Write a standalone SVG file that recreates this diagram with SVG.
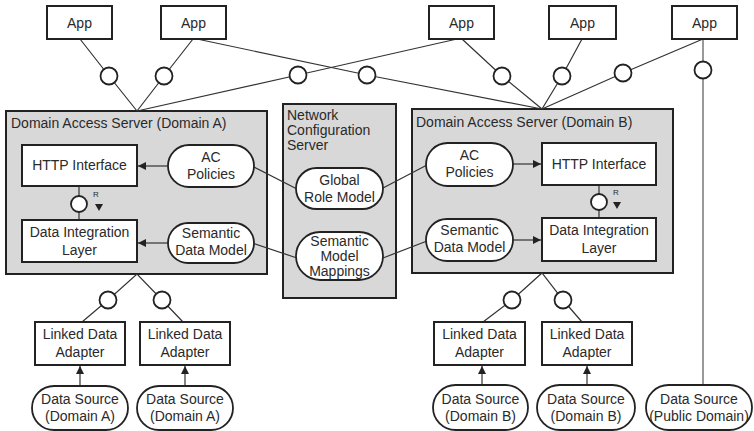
<svg xmlns="http://www.w3.org/2000/svg" width="754" height="431" viewBox="0 0 754 431">
<defs>
<style>
text{font-family:"Liberation Sans",Arial,sans-serif;font-size:14px;fill:#2a2a2a}
.t{text-anchor:middle}
.box{fill:#fff;stroke:#222;stroke-width:2}
.srv{fill:#d8d8d8;stroke:#222;stroke-width:2}
.st{fill:#fff;stroke:#222;stroke-width:1.8}
.ln{fill:none;stroke:#333;stroke-width:1.2}
.gl{fill:none;stroke:#999;stroke-width:2}
.lp{fill:#fff;stroke:#222;stroke-width:1.8}
.ar{fill:none;stroke:#333;stroke-width:1.2;marker-end:url(#ah)}
.r{font-size:8px}
</style>
<marker id="ah" viewBox="0 0 10 10" refX="10" refY="5" markerWidth="8" markerHeight="8" markerUnits="userSpaceOnUse" orient="auto"><path d="M0,0L10,5L0,10z" fill="#222"/></marker>
</defs>

<g id="domainA">
<rect class="srv" x="6" y="111" width="261" height="163"/>
<text x="11" y="128">Domain Access Server (Domain A)</text>
</g>
<g id="domainB">
<rect class="srv" x="412" y="109" width="261" height="164"/>
<text x="416" y="127">Domain Access Server (Domain B)</text>
</g>
<g id="ncs">
<rect class="srv" x="283" y="104" width="113" height="194"/>
<text x="287" y="120">Network</text>
<text x="287" y="135">Configuration</text>
<text x="287" y="150">Server</text>
</g>

<g id="connectors">
<polyline class="ln" points="80,39 109,76 137,111"/>
<polyline class="ln" points="193,39 164,76 137,111"/>
<polyline class="ln" points="457,39 298,75 137,111"/>
<polyline class="ln" points="197,39 367,75 542,109"/>
<polyline class="ln" points="462,39 502,76 542,109"/>
<polyline class="ln" points="582,39 562,76 542,109"/>
<polyline class="ln" points="703,39 623,73 542,109"/>
<line class="gl" x1="703" y1="39" x2="703" y2="385"/>
<polyline class="ln" points="82,322 108,300 137,274 162,300 183,322"/>
<polyline class="ln" points="483,322 512,300 542,273 563,300 582,322"/>
<line class="ln" x1="254" y1="167" x2="297" y2="189"/>
<line class="ln" x1="252" y1="243" x2="297" y2="258"/>
<line class="ln" x1="383" y1="188" x2="427" y2="165"/>
<line class="ln" x1="383" y1="258" x2="427" y2="241"/>
<line class="ar" x1="168" y1="166" x2="138" y2="166"/>
<line class="ar" x1="168" y1="243" x2="138" y2="243"/>
<line class="ar" x1="513" y1="164" x2="541" y2="164"/>
<line class="ar" x1="513" y1="240" x2="541" y2="240"/>
<line class="ln" x1="79" y1="186" x2="79" y2="220"/>
<line class="ln" x1="599" y1="185" x2="599" y2="218"/>
<line class="ar" x1="80" y1="386" x2="80" y2="366"/>
<line class="ar" x1="185" y1="386" x2="185" y2="366"/>
<line class="ar" x1="482" y1="385" x2="482" y2="366"/>
<line class="ar" x1="587" y1="385" x2="587" y2="366"/>
<circle class="lp" cx="109" cy="76" r="8.5"/>
<circle class="lp" cx="164" cy="76" r="8.5"/>
<circle class="lp" cx="298" cy="75" r="8.5"/>
<circle class="lp" cx="367" cy="75" r="8.5"/>
<circle class="lp" cx="502" cy="76" r="8.5"/>
<circle class="lp" cx="562" cy="76" r="8.5"/>
<circle class="lp" cx="623" cy="73" r="8.5"/>
<circle class="lp" cx="703" cy="70" r="8.5"/>
<circle class="lp" cx="108" cy="300" r="8.5"/>
<circle class="lp" cx="162" cy="300" r="8.5"/>
<circle class="lp" cx="512" cy="300" r="8.5"/>
<circle class="lp" cx="563" cy="300" r="8.5"/>
<circle class="lp" cx="79" cy="204" r="8"/>
<circle class="lp" cx="599" cy="202" r="8"/>
<text class="r" x="93" y="197">R</text>
<path d="M95,204L103,204L99,211z" fill="#222"/>
<text class="r" x="613" y="195">R</text>
<path d="M613,202L621,202L617,209z" fill="#222"/>
</g>

<g id="app1"><rect class="box" x="47" y="6" width="65" height="33"/><text class="t" x="79.5" y="28">App</text></g>
<g id="app2"><rect class="box" x="161" y="6" width="65" height="33"/><text class="t" x="193.5" y="28">App</text></g>
<g id="app3"><rect class="box" x="429" y="6" width="65" height="33"/><text class="t" x="461.5" y="28">App</text></g>
<g id="app4"><rect class="box" x="549" y="6" width="67" height="33"/><text class="t" x="582.5" y="28">App</text></g>
<g id="app5"><rect class="box" x="672" y="6" width="65" height="33"/><text class="t" x="704.5" y="28">App</text></g>

<g id="httpA"><rect class="box" x="22" y="145" width="115" height="41"/><text class="t" x="79.5" y="170">HTTP Interface</text></g>
<g id="acA"><rect class="st" x="168" y="145" width="86" height="42" rx="21"/><text class="t" x="211" y="162">AC</text><text class="t" x="211" y="179">Policies</text></g>
<g id="dilA"><rect class="box" x="22" y="220" width="115" height="42"/><text class="t" x="79.5" y="237">Data Integration</text><text class="t" x="79.5" y="255">Layer</text></g>
<g id="sdmA"><rect class="st" x="168" y="223" width="86" height="40" rx="20"/><text class="t" x="211" y="238">Semantic</text><text class="t" x="211" y="255">Data Model</text></g>

<g id="grm"><rect class="st" x="296" y="168" width="87" height="41" rx="20.5"/><text class="t" x="339.5" y="185">Global</text><text class="t" x="339.5" y="202">Role Model</text></g>
<g id="smm"><rect class="st" x="296" y="232" width="87" height="48" rx="24"/><text class="t" x="339.5" y="246">Semantic</text><text class="t" x="339.5" y="261">Model</text><text class="t" x="339.5" y="276">Mappings</text></g>

<g id="acB"><rect class="st" x="426" y="143" width="87" height="43" rx="21.5"/><text class="t" x="469.5" y="160">AC</text><text class="t" x="469.5" y="177">Policies</text></g>
<g id="httpB"><rect class="box" x="542" y="143" width="114" height="42"/><text class="t" x="599" y="169">HTTP Interface</text></g>
<g id="sdmB"><rect class="st" x="426" y="219" width="87" height="42" rx="21"/><text class="t" x="469.5" y="235">Semantic</text><text class="t" x="469.5" y="252">Data Model</text></g>
<g id="dilB"><rect class="box" x="542" y="218" width="114" height="43"/><text class="t" x="599" y="235">Data Integration</text><text class="t" x="599" y="253">Layer</text></g>

<g id="lda1"><rect class="box" x="35" y="322" width="90" height="43"/><text class="t" x="80" y="339">Linked Data</text><text class="t" x="80" y="357">Adapter</text></g>
<g id="lda2"><rect class="box" x="140" y="322" width="90" height="43"/><text class="t" x="185" y="339">Linked Data</text><text class="t" x="185" y="357">Adapter</text></g>
<g id="lda3"><rect class="box" x="434" y="322" width="91" height="43"/><text class="t" x="479.5" y="339">Linked Data</text><text class="t" x="479.5" y="357">Adapter</text></g>
<g id="lda4"><rect class="box" x="542" y="322" width="90" height="43"/><text class="t" x="587" y="339">Linked Data</text><text class="t" x="587" y="357">Adapter</text></g>

<g id="ds1"><rect class="st" x="32" y="386" width="96" height="44" rx="22"/><text class="t" x="80" y="404">Data Source</text><text class="t" x="80" y="421">(Domain A)</text></g>
<g id="ds2"><rect class="st" x="137" y="386" width="96" height="44" rx="22"/><text class="t" x="185" y="404">Data Source</text><text class="t" x="185" y="421">(Domain A)</text></g>
<g id="ds3"><rect class="st" x="433" y="385" width="95" height="45" rx="22.5"/><text class="t" x="480.5" y="404">Data Source</text><text class="t" x="480.5" y="421">(Domain B)</text></g>
<g id="ds4"><rect class="st" x="537" y="385" width="98" height="45" rx="22.5"/><text class="t" x="586" y="404">Data Source</text><text class="t" x="586" y="421">(Domain B)</text></g>
<g id="ds5"><rect class="st" x="646" y="385" width="106" height="45" rx="22.5"/><text class="t" x="699" y="404">Data Source</text><text class="t" x="699" y="421">(Public Domain)</text></g>
</svg>
